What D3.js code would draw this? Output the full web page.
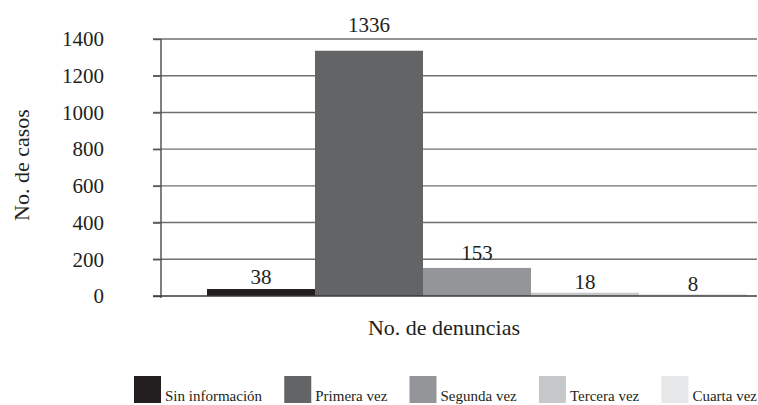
<!DOCTYPE html>
<html>
<head>
<meta charset="utf-8">
<script src="https://cdn.jsdelivr.net/npm/d3@7"></script>
<style>
  html, body { margin: 0; padding: 0; background: #fff; }
  svg { display: block; }
  svg text { font-family: "Liberation Serif", "DejaVu Serif", "Times New Roman", Times, serif !important; fill: #231f20; }
</style>
</head>
<body>
<svg id="chart" width="758" height="405"></svg>
<script>
// ---- data ----
const categories = ["Sin información", "Primera vez", "Segunda vez", "Tercera vez", "Cuarta vez"];
const values = [38, 1336, 153, 18, 8];
const colors = ["#231f20", "#636466", "#939598", "#c7c8ca", "#e6e7e8"];
const yTicks = [0, 200, 400, 600, 800, 1000, 1200, 1400];
const yTitle = "No. de casos";
const xTitle = "No. de denuncias";

// ---- layout ----
const W = 758, H = 405;
const plot = { left: 161, right: 757, top: 39, bottom: 296 };
const barsLeft = 207, barsRight = 747;

const svg = d3.select("#chart");

const y = d3.scaleLinear().domain([0, 1400]).range([plot.bottom, plot.top]);
const x = d3.scaleBand().domain(categories).range([barsLeft, barsRight]).padding(0);

// gridlines
svg.append("g").selectAll("line").data(yTicks.filter(d => d > 0)).join("line")
  .attr("x1", plot.left - 8).attr("x2", plot.right)
  .attr("y1", d => y(d)).attr("y2", d => y(d))
  .attr("stroke", "#6f6f6f").attr("stroke-width", 1.4);

// bars
svg.append("g").selectAll("rect").data(categories).join("rect")
  .attr("x", d => x(d))
  .attr("width", x.bandwidth())
  .attr("y", (d, i) => Math.min(y(values[i]), plot.bottom - 2))
  .attr("height", (d, i) => plot.bottom - Math.min(y(values[i]), plot.bottom - 2))
  .attr("fill", (d, i) => colors[i]);

// y axis
const yAxis = d3.axisLeft(y).tickValues(yTicks).tickSize(8).tickPadding(0).tickFormat(d3.format("d"));
const gy = svg.append("g").attr("transform", `translate(${plot.left},0)`).call(yAxis);
gy.attr("font-family", null).attr("font-size", null);
gy.select(".domain").remove();
gy.selectAll(".tick line").attr("stroke", "#555").attr("stroke-width", 1.4);
gy.selectAll(".tick text")
  .attr("x", -(plot.left - 104))
  .attr("font-size", 21)
  .attr("fill", "#231f20");

svg.append("line")
  .attr("x1", plot.left).attr("x2", plot.left)
  .attr("y1", y(1400)).attr("y2", plot.bottom + 2)
  .attr("stroke", "#555").attr("stroke-width", 1.5);

// baseline
svg.append("line")
  .attr("x1", plot.left - 8).attr("x2", plot.right)
  .attr("y1", y(0)).attr("y2", y(0))
  .attr("stroke", "#3a3a3a").attr("stroke-width", 1.6);

// value labels
svg.append("g").selectAll("text").data(categories).join("text")
  .attr("x", d => x(d) + x.bandwidth() / 2)
  .attr("y", (d, i) => y(values[i]) - (2 + 0.45 * Math.sqrt(values[i])))
  .attr("text-anchor", "middle")
  .attr("font-size", 21)
  .text((d, i) => values[i]);

// axis titles
svg.append("text")
  .attr("transform", `translate(29,165) rotate(-90)`)
  .attr("text-anchor", "middle")
  .attr("font-size", 22)
  .text(yTitle);

svg.append("text")
  .attr("x", 444).attr("y", 335)
  .attr("text-anchor", "middle")
  .attr("font-size", 22)
  .text(xTitle);

// legend: spread items between the first swatch and the right edge
const lg = svg.append("g");
const legLeft = 134, legRight = 757, sw = 27, swGap = 4;
const items = categories.map((c, i) => {
  const g = lg.append("g");
  g.append("rect").attr("y", 376).attr("width", sw).attr("height", sw).attr("fill", colors[i]);
  const t = g.append("text").attr("x", sw + swGap).attr("y", 401).attr("font-size", 15).text(c);
  return { g, w: sw + swGap + t.node().getComputedTextLength() };
});
const totalW = d3.sum(items, d => d.w);
const gap = (legRight - legLeft - totalW) / (items.length - 1);
let lx = legLeft;
items.forEach(it => { it.g.attr("transform", `translate(${lx},0)`); lx += it.w + gap; });
</script>
</body>
</html>
